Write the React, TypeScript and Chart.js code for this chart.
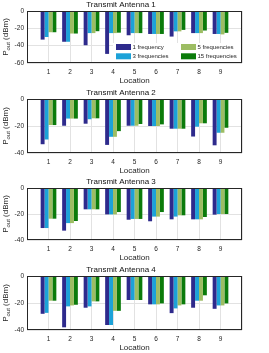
import React, { useEffect, useRef } from 'react';
import { Chart, registerables } from 'chart.js';

Chart.register(...registerables);

const locations = [1, 2, 3, 4, 5, 6, 7, 8, 9];
const seriesNames = ['1 frequency', '3 frequencies', '5 frequencies', '15 frequencies'];
const panelTitles = ['Transmit Antenna 1', 'Transmit Antenna 2', 'Transmit Antenna 3', 'Transmit Antenna 4'];
const yAxisMin = [-60, -40, -40, -40];
const yAxisMax = [0, 0, 0, 0];
const yTickStep = 20;

// Transmit Antenna 1
const ant1Freq1 = [-33, -35.5, -39.5, -49.5, -28, -26.5, -29.5, -25.5, -26.5];
const ant1Freq3 = [-30, -35.5, -25.5, -25.5, -25.5, -26.5, -23.5, -25.5, -26.5];
const ant1Freq5 = [-24.5, -26, -25.5, -25.5, -25.5, -26.5, -23.5, -25.5, -27];
const ant1Freq15 = [-24.5, -26, -23.3, -25, -25.5, -26.5, -21.8, -22.5, -25.2];

// Transmit Antenna 2
const ant2Freq1 = [-33.5, -19.8, -18.3, -34, -19.8, -20, -22, -27.8, -34.3];
const ant2Freq3 = [-30, -14.5, -15, -28, -19.8, -20, -22, -20.5, -25];
const ant2Freq5 = [-19.3, -14.5, -14.3, -28, -19.8, -20, -22, -18, -25];
const ant2Freq15 = [-19.3, -14.5, -14.3, -23.8, -18.5, -18.8, -22, -18, -21.3];

// Transmit Antenna 3
const ant3Freq1 = [-30.8, -32.8, -16.4, -20.3, -24.4, -25.6, -24.1, -24.1, -20.5];
const ant3Freq3 = [-30.8, -27, -16.4, -20.3, -23.8, -22, -22, -24.1, -20];
const ant3Freq5 = [-23.6, -27, -16.4, -20.3, -23.8, -22, -21, -24.1, -20];
const ant3Freq15 = [-23.6, -25.4, -16.4, -18.5, -23.8, -18.5, -21, -22.3, -20];

// Transmit Antenna 4
const ant4Freq1 = [-28, -38, -23.5, -36.3, -17.8, -21, -27.5, -23.5, -24.3];
const ant4Freq3 = [-27.3, -22.5, -22.5, -36.3, -17.8, -21, -24, -18.3, -21.8];
const ant4Freq5 = [-18.3, -21.8, -18.8, -25.8, -17.8, -21, -21.8, -18.3, -21.8];
const ant4Freq15 = [-18.3, -21.3, -18.8, -25.8, -17.8, -20.3, -21, -14.3, -20.3];

const antennaData = [
  [ant1Freq1, ant1Freq3, ant1Freq5, ant1Freq15],
  [ant2Freq1, ant2Freq3, ant2Freq5, ant2Freq15],
  [ant3Freq1, ant3Freq3, ant3Freq5, ant3Freq15],
  [ant4Freq1, ant4Freq3, ant4Freq5, ant4Freq15],
];

// styles
const seriesColors = ['#2e2a8c', '#1ca2d8', '#9dbd63', '#0b7b0b'];
const FONT = '"Liberation Sans", Arial, Helvetica, sans-serif';
const TEXT = '#262626';
const GRID = '#e2e2e2';
const CANVAS_TOPS = [0, 88, 177, 265];
const AREA_H = [52, 54, 52, 54];
const TOP_H = 11;
const XAXIS_H = 25;
const YAXIS_W = 27;
const RIGHT_PAD = 27;
const W = 269;

Chart.defaults.font.family = FONT;
Chart.defaults.color = TEXT;

const decorPlugin = {
  id: 'decor',
  afterDraw(chart: any, _args: any, opts: any) {
    const { ctx, chartArea: a } = chart;
    ctx.save();
    // legend
    if (opts.legend) {
      const lw = 129;
      const lh = 20;
      const lx = a.right - lw;
      const ly = a.bottom - lh;
      ctx.fillStyle = '#ffffff';
      ctx.fillRect(lx, ly, lw, lh);
      ctx.font = `6px ${FONT}`;
      ctx.textBaseline = 'middle';
      ctx.textAlign = 'left';
      chart.data.datasets.forEach((ds: any, i: number) => {
        const col = Math.floor(i / 2);
        const row = i % 2;
        const sx = lx + 3 + col * 65;
        const sy = ly + 4 + row * 9.3;
        ctx.fillStyle = ds.backgroundColor;
        ctx.fillRect(sx, sy - 3, 15, 6);
        ctx.fillStyle = TEXT;
        ctx.fillText(ds.label, sx + 16.5, sy + 0.5);
      });
    }
    // frame
    ctx.strokeStyle = TEXT;
    ctx.lineWidth = 1;
    ctx.strokeRect(a.left + 0.5, a.top + 0.5, a.right - a.left - 1, a.bottom - a.top - 1);
    // y title with subscript
    const yMid = (a.top + a.bottom) / 2;
    ctx.translate(6, yMid);
    ctx.rotate(-Math.PI / 2);
    ctx.fillStyle = TEXT;
    ctx.textBaseline = 'middle';
    ctx.textAlign = 'left';
    const big = `8px ${FONT}`;
    const small = `6px ${FONT}`;
    ctx.font = big;
    const wP = ctx.measureText('P').width;
    const wRest = ctx.measureText(' (dBm)').width;
    ctx.font = small;
    const wSub = ctx.measureText('out').width;
    const total = wP + wSub + wRest;
    let x0 = -total / 2;
    ctx.font = big;
    ctx.fillText('P', x0, 0);
    ctx.font = small;
    ctx.fillText('out', x0 + wP, 2.5);
    ctx.font = big;
    ctx.fillText(' (dBm)', x0 + wP + wSub, 0);
    ctx.restore();
  },
};

function makeConfig(i: number): any {
  const series = antennaData[i];
  return {
    type: 'bar',
    data: {
      datasets: series.map((vals, s) => ({
        label: seriesNames[s],
        data: locations.map((loc, k) => ({ x: loc, y: vals[k] })),
        backgroundColor: seriesColors[s],
        borderWidth: 0,
        barPercentage: 1,
        categoryPercentage: 0.73,
      })),
    },
    options: {
      responsive: false,
      animation: false,
      events: [],
      layout: { padding: { left: 0, right: RIGHT_PAD, top: 0, bottom: 0 } },
      plugins: {
        legend: { display: false },
        tooltip: { enabled: false },
        title: {
          display: true,
          text: panelTitles[i],
          color: '#111111',
          font: { size: 8, weight: 'normal', family: FONT },
          padding: { top: 0, bottom: 1.4 },
        },
        decor: { legend: i === 0 },
      },
      scales: {
        x: {
          type: 'linear',
          min: 0,
          max: 10,
          offset: false,
          grid: { color: GRID, drawTicks: false, offset: false },
          border: { display: false },
          ticks: {
            stepSize: 1,
            autoSkip: false,
            maxRotation: 0,
            padding: 5,
            font: { size: 6.5 },
            color: TEXT,
            callback: (v: number) => (locations.includes(v) ? String(v) : ''),
          },
          title: {
            display: true,
            text: 'Location',
            color: TEXT,
            font: { size: 8 },
            padding: { top: 0, bottom: 2.2 },
          },
          afterFit: (s: any) => {
            s.height = XAXIS_H;
          },
        },
        y: {
          min: yAxisMin[i],
          max: yAxisMax[i],
          grid: { color: GRID, drawTicks: false },
          border: { display: false },
          ticks: { stepSize: yTickStep, padding: 3, font: { size: 6.5 }, color: TEXT },
          afterFit: (s: any) => {
            s.width = YAXIS_W;
          },
        },
      },
    },
    plugins: [decorPlugin],
  };
}

function Panel({ index }: { index: number }) {
  const ref = useRef<HTMLCanvasElement>(null);
  const h = TOP_H + AREA_H[index] + XAXIS_H;
  useEffect(() => {
    const chart = new Chart(ref.current as HTMLCanvasElement, makeConfig(index));
    return () => chart.destroy();
  }, [index]);
  return (
    <canvas
      ref={ref}
      width={W}
      height={h}
      style={{ position: 'absolute', left: 0, top: CANVAS_TOPS[index], width: W, height: h }}
    />
  );
}

export default function App() {
  return (
    <div style={{ position: 'absolute', left: 0, top: 0, width: W, height: 353, background: '#ffffff', overflow: 'hidden' }}>
      {antennaData.map((_, i) => (
        <Panel key={i} index={i} />
      ))}
    </div>
  );
}
